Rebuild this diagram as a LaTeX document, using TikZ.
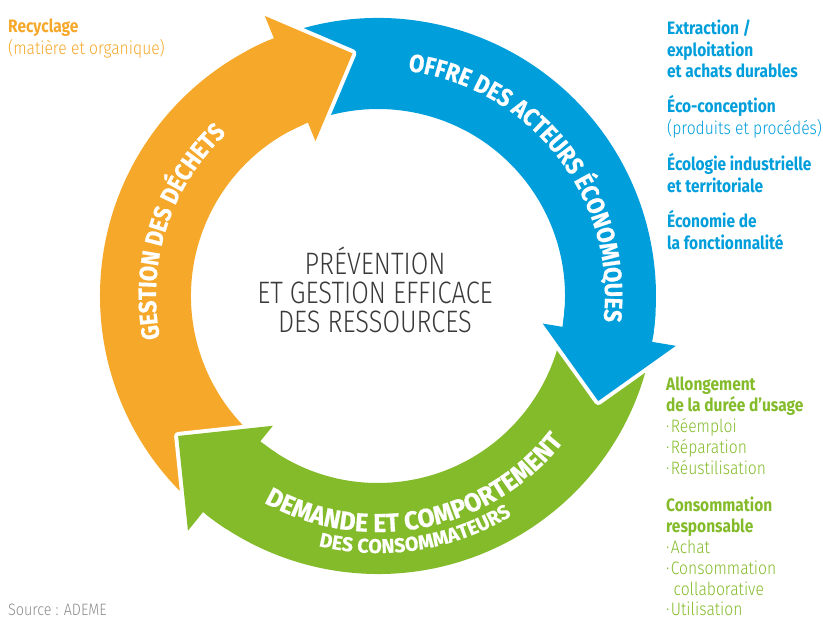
\documentclass[tikz,border=0pt]{standalone}
\usepackage{fontspec}
\setmainfont{Fira Sans}
\newfontfamily\cb{Fira Sans}[FakeStretch=0.86]
\newfontfamily\cl{Fira Sans Light}[FakeStretch=0.87]
\newfontfamily\ccl{Fira Sans Light}[FakeStretch=0.82]
\newfontfamily\arcfA{Fira Sans}[FakeStretch=0.88,FakeBold=0.6]
\newfontfamily\arcfG{Fira Sans}[FakeStretch=0.95,FakeBold=0.6]
\newfontfamily\arcfH{Fira Sans}[FakeStretch=0.98,FakeBold=0.5]
\usetikzlibrary{decorations.text}
\definecolor{oC}{HTML}{F5A82A}
\definecolor{bC}{HTML}{009EDB}
\definecolor{gC}{HTML}{84BB2A}
\definecolor{tC}{HTML}{3A3A3A}
\definecolor{sC}{HTML}{8C8C8C}
\newcommand\myshaft[3]{% color, start angle, end angle
  \fill[#1] (#2:278) arc[start angle=#2,end angle=#3,radius=278] -- (#3:187) arc[start angle=#3,end angle=#2,radius=187] -- cycle;}
\newcommand\myhead[3]{% color, base, tip
  \pgfmathsetmacro\pa{#2+6}\pgfmathsetmacro\pb{#2-1}%
  \draw[white,line width=8pt,line join=round] (#2:302) -- (#3:244) -- (#2:167) -- cycle;
  \fill[#1] (#2:302) -- (#3:244) -- (#2:167) -- cycle;
  \fill[#1] (\pa:278) arc[start angle=\pa,end angle=\pb,radius=278] -- (\pb:187) arc[start angle=\pb,end angle=\pa,radius=187] -- cycle;}
\newcommand\arcA{\arcfA\bfseries\fontsize{25}{25}\selectfont}
\newcommand\arcG{\arcfG\bfseries\fontsize{26}{26}\selectfont}
\newcommand\arcH{\arcfH\bfseries\fontsize{20}{20}\selectfont}
\begin{document}
\begin{tikzpicture}[x=1pt,y=1pt,
  lbl/.style={inner sep=0pt,anchor=base west},
  hb/.style={lbl,font=\cb\bfseries\fontsize{18}{21}\selectfont},
  hl/.style={lbl,font=\cl\fontsize{18}{21}\selectfont},
  ctr/.style={inner sep=0pt,anchor=base,text=tC,font=\ccl\fontsize{31}{31}\selectfont}]
\useasboundingbox (0,0) rectangle (823,619);
\begin{scope}[shift={(378,323)}]
  \myshaft{oC}{231}{112}
  \myshaft{bC}{112}{-9.5}
  \myshaft{gC}{-9.5}{-129}
  \myhead{oC}{112}{96}
  \myhead{bC}{-9.5}{-25.5}
  \myhead{gC}{-129}{-145}
  \path[decorate,decoration={text along path,text align=center,text color=white,
     text={|\arcA|OFFRE DES ACTEURS ÉCONOMIQUES}}]
     (129:227) arc[start angle=129,end angle=-53,radius=227];
  \path[decorate,decoration={text along path,text align=center,text color=white,
     text={|\arcA|GESTION DES DÉCHETS}}]
     (232:222) arc[start angle=232,end angle=92,radius=222];
  \path[decorate,decoration={text along path,text align=center,text color=white,
     text={|\arcG|DEMANDE ET COMPORTEMENT}}]
     (196.5:236) arc[start angle=196.5,end angle=366.5,radius=236];
  \path[decorate,decoration={text along path,text align=center,text color=white,
     text={|\arcH|DES CONSOMMATEURS}}]
     (204:257) arc[start angle=204,end angle=354,radius=257];
\end{scope}
% centre
\node[ctr] (c1) at (375,344) {PRÉVENTION};
\node[ctr] (c2) at (375,315) {ET GESTION EFFICACE};
\node[ctr] (c3) at (375,286) {DES RESSOURCES};
% orange
\node[hb,text=oC] (o1) at (8,586) {Recyclage};
\node[hl,text=oC] (o2) at (8,564) {(matière et organique)};
% blue
\node[hb,text=bC] (b1) at (667,584) {Extraction /};
\node[hb,text=bC] (b2) at (667,562.5) {exploitation};
\node[hb,text=bC] (b3) at (667,541) {et achats durables};
\node[hb,text=bC] (b4) at (667,506) {Éco-conception};
\node[hl,text=bC] (b5) at (667,484.5) {(produits et procédés)};
\node[hb,text=bC] (b6) at (667,448) {Écologie industrielle};
\node[hb,text=bC] (b7) at (667,426.5) {et territoriale};
\node[hb,text=bC] (b8) at (667,391) {Économie de};
\node[hb,text=bC] (b9) at (667,369.5) {la fonctionnalité};
% green
\node[hb,text=gC] (g1) at (666,228) {Allongement};
\node[hb,text=gC] (g2) at (666,207) {de la durée d’usage};
\node[hl,text=gC] (g3) at (666,186) {·\hspace{1.5pt}Réemploi};
\node[hl,text=gC] (g4) at (666,165) {·\hspace{1.5pt}Réparation};
\node[hl,text=gC] (g5) at (666,144) {·\hspace{1.5pt}Réustilisation};
\node[hb,text=gC] (g6) at (666,107) {Consommation};
\node[hb,text=gC] (g7) at (666,86) {responsable};
\node[hl,text=gC] (g8) at (666,65) {·\hspace{1.5pt}Achat};
\node[hl,text=gC] (g9) at (666,44) {·\hspace{1.5pt}Consommation};
\node[hl,text=gC] (g10) at (673.5,23) {collaborative};
\node[hl,text=gC] (g11) at (666,3.5) {·\hspace{1.5pt}Utilisation};
% source
\node[lbl,text=sC,font=\cl\fontsize{16.5}{16.5}\selectfont] (src) at (8,3) {Source : ADEME};
\end{tikzpicture}
\end{document}
